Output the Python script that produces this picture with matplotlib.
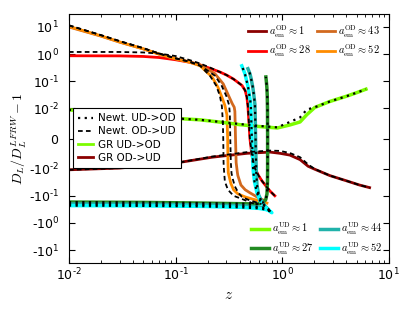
import numpy as np
import matplotlib
matplotlib.use("Agg")
import matplotlib.pyplot as plt
from matplotlib.lines import Line2D
from matplotlib.ticker import FixedLocator, FuncFormatter, NullLocator

plt.rcParams['mathtext.fontset'] = 'cm'

# colours / labels of the two families of curves
od_vals = [1, 28, 43, 52]
od_colors = ['#8b0000', '#ff0000', '#d2691e', '#ff8c00']
ud_vals = [1, 27, 44, 52]
ud_colors = ['#7cfc00', '#228b22', '#20b2aa', '#00ffff']

# ---- overdense observer -> underdense (GR) and Newtonian counterparts ----
z_od1 = [0.01, 0.03, 0.06, 0.11, 0.22, 0.47, 0.77, 0.95, 1.18, 1.47, 1.75, 2.02, 2.8, 4.0, 5.3, 6.6]
d_od1 = [-0.011, -0.0098, -0.0088, -0.0079, -0.0062, -0.0049, -0.0045, -0.0049, -0.0055, -0.007,
         -0.0092, -0.0105, -0.018, -0.028, -0.04, -0.05]
zn_od1 = z_od1
dn_od1 = [-0.011, -0.0098, -0.0088, -0.0079, -0.006, -0.0045, -0.004, -0.0041, -0.0048, -0.0062,
          -0.0086, -0.0103, -0.018, -0.028, -0.04, -0.05]

z_od28 = [0.01, 0.03, 0.05, 0.07, 0.1, 0.136, 0.17, 0.21, 0.26, 0.3, 0.35, 0.42, 0.45, 0.466, 0.477,
          0.49, 0.498, 0.51, 0.519, 0.555, 0.6, 0.645, 0.766, 0.853]
d_od28 = [0.87, 0.86, 0.82, 0.75, 0.62, 0.5, 0.4, 0.3, 0.22, 0.17, 0.12, 0.07, 0.045, 0.026, 0.012,
          0.004, 0.0, -0.003, -0.0055, -0.0099, -0.018, -0.028, -0.066, -0.1]
zn_od28 = z_od28
dn_od28 = [1.2, 1.2, 1.15, 1.05, 0.85, 0.6, 0.45, 0.32, 0.22, 0.17, 0.12, 0.07, 0.045, 0.026, 0.012,
           0.004, 0.0, -0.003, -0.0055, -0.0099, -0.018, -0.028, -0.066, -0.1]

z_od43 = [0.01, 0.02, 0.03, 0.05, 0.07, 0.1, 0.136, 0.17, 0.234, 0.28, 0.31, 0.34, 0.355, 0.36,
          0.365, 0.37, 0.38, 0.384, 0.41, 0.45, 0.5, 0.58, 0.69]
d_od43 = [10.0, 4.6, 2.75, 1.55, 1.0, 0.68, 0.52, 0.4, 0.19, 0.08, 0.033, 0.015, 0.011, 0.009,
          0.0, -0.008, -0.014, -0.018, -0.04, -0.06, -0.078, -0.11, -0.155]
zn_od43 = [0.01, 0.02, 0.03, 0.05, 0.07, 0.1, 0.136, 0.17, 0.234, 0.27, 0.3, 0.318, 0.323, 0.326,
           0.33, 0.335, 0.345, 0.36, 0.39, 0.42, 0.48, 0.56, 0.64]
dn_od43 = [11.5, 5.0, 3.0, 1.65, 1.05, 0.7, 0.52, 0.38, 0.16, 0.07, 0.028, 0.013, 0.008, 0.0,
           -0.008, -0.015, -0.025, -0.045, -0.08, -0.11, -0.14, -0.17, -0.2]

z_od52 = [0.01, 0.02, 0.03, 0.05, 0.07, 0.1, 0.136, 0.17, 0.22, 0.25, 0.272, 0.29, 0.303, 0.308,
          0.31, 0.312, 0.33, 0.35, 0.384, 0.45, 0.52, 0.6, 0.72]
d_od52 = [10.5, 4.7, 2.8, 1.56, 1.0, 0.67, 0.5, 0.37, 0.144, 0.06, 0.026, 0.013, 0.0079, 0.0,
          -0.008, -0.014, -0.035, -0.06, -0.085, -0.11, -0.13, -0.15, -0.185]
zn_od52 = [0.01, 0.02, 0.03, 0.05, 0.07, 0.1, 0.136, 0.17, 0.21, 0.24, 0.26, 0.272, 0.278, 0.28,
           0.282, 0.284, 0.29, 0.31, 0.35, 0.418, 0.52, 0.6]
dn_od52 = [11.5, 5.0, 3.0, 1.65, 1.05, 0.7, 0.52, 0.37, 0.16, 0.07, 0.03, 0.012, 0.005, 0.0,
           -0.008, -0.01, -0.03, -0.06, -0.1, -0.13, -0.185, -0.2]

# ---- underdense observer -> overdense (GR); Newtonian dotted on top ----
z_ud1 = [0.01, 0.03, 0.06, 0.11, 0.17, 0.3, 0.4, 0.6, 0.9, 1.18, 1.47, 1.7, 2.02, 2.8, 4.0, 5.0, 6.1]
d_ud1 = [0.0095, 0.0085, 0.0075, 0.0066, 0.0062, 0.0052, 0.0046, 0.004, 0.0035, 0.0045, 0.0055,
         0.0079, 0.0108, 0.018, 0.028, 0.038, 0.051]
zn_ud1 = z_ud1
dn_ud1 = [0.0095, 0.0085, 0.0075, 0.0066, 0.0062, 0.0053, 0.0048, 0.0042, 0.0037, 0.0055, 0.007,
          0.0096, 0.011, 0.018, 0.028, 0.038, 0.051]

z_ud27 = [0.01, 0.05, 0.17, 0.4, 0.58, 0.65, 0.7, 0.72, 0.728, 0.73, 0.73, 0.728, 0.724, 0.718,
          0.71, 0.703]
d_ud27 = [-0.17, -0.175, -0.185, -0.195, -0.2, -0.185, -0.14, -0.085, -0.03, -0.01, 0.0, 0.01,
          0.03, 0.06, 0.1, 0.144]

z_ud44 = [0.01, 0.05, 0.17, 0.4, 0.6, 0.7, 0.75, 0.7, 0.64, 0.6, 0.58, 0.572, 0.565, 0.56, 0.555,
          0.54, 0.53, 0.51, 0.498, 0.477]
d_ud44 = [-0.2, -0.205, -0.215, -0.23, -0.255, -0.28, -0.33, -0.25, -0.16, -0.09, -0.04, -0.015,
          -0.004, 0.005, 0.014, 0.035, 0.06, 0.13, 0.19, 0.29]

z_ud52 = [0.01, 0.05, 0.17, 0.4, 0.6, 0.7, 0.76, 0.8, 0.74, 0.67, 0.62, 0.58, 0.55, 0.535, 0.525,
          0.515, 0.508, 0.49, 0.477, 0.447, 0.418]
d_ud52 = [-0.23, -0.235, -0.245, -0.265, -0.29, -0.32, -0.36, -0.42, -0.33, -0.22, -0.15, -0.078,
          -0.03, -0.012, -0.004, 0.004, 0.014, 0.035, 0.066, 0.19, 0.37]

fig = plt.figure(figsize=(4.15, 3.12), dpi=100)
ax = fig.add_axes([0.166, 0.157, 0.771, 0.798])

gr_lw = 2.0
nw_lw = 1.3
dash = (2.6, 1.8)
dot = (1.0, 2.0)

od_gr = [(z_od1, d_od1), (z_od28, d_od28), (z_od43, d_od43), (z_od52, d_od52)]
od_nw = [(zn_od1, dn_od1), (zn_od28, dn_od28), (zn_od43, dn_od43), (zn_od52, dn_od52)]
ud_gr = [(z_ud1, d_ud1), (z_ud27, d_ud27), (z_ud44, d_ud44), (z_ud52, d_ud52)]
ud_nw = [(zn_ud1, dn_ud1), (z_ud27, d_ud27), (z_ud44, d_ud44), (z_ud52, d_ud52)]

od_handles = []
for (z, d), c, v in zip(od_gr, od_colors, od_vals):
    h, = ax.plot(z, d, color=c, lw=gr_lw, zorder=2,
                 label=r'$a_{\rm em}^{\rm OD}\approx %d$' % v)
    od_handles.append(h)
ud_handles = []
for (z, d), c, v in zip(ud_gr, ud_colors, ud_vals):
    h, = ax.plot(z, d, color=c, lw=gr_lw + 0.5, zorder=2,
                 label=r'$a_{\rm em}^{\rm UD}\approx %d$' % v)
    ud_handles.append(h)
for z, d in od_nw:
    ax.plot(z, d, color='k', lw=nw_lw, dashes=dash, zorder=3)
for z, d in ud_nw:
    ax.plot(z, d, color='k', lw=nw_lw + 0.3, dashes=dot, zorder=3)

ax.set_xscale('log')
ax.set_yscale('symlog', linthresh=0.01, linscale=1)
ax.set_xlim(0.01, 10)
ax.set_ylim(-30, 30)

yt = [-10, -1, -0.1, -0.01, 0, 0.01, 0.1, 1, 10]
xt = [0.01, 0.1, 1, 10]


def fmt(v, pos):
    if v == 0:
        return r'$\mathdefault{0}$'
    e = int(round(np.log10(abs(v))))
    s = '\u2010' if v < 0 else ''
    es = ('\u2010%d' % -e) if e < 0 else '%d' % e
    return r'$\mathdefault{%s10^{%s}}$' % (s, es)


ax.xaxis.set_major_locator(FixedLocator(xt))
ax.xaxis.set_major_formatter(FuncFormatter(fmt))
ax.yaxis.set_major_locator(FixedLocator(yt))
ax.yaxis.set_major_formatter(FuncFormatter(fmt))
ax.yaxis.set_minor_locator(NullLocator())
ax.tick_params(which='both', direction='in', top=True, right=True, labelsize=9)
ax.tick_params(axis='y', pad=7)
ax.tick_params(axis='x', pad=3)
ax.tick_params(which='major', length=4)
ax.tick_params(which='minor', length=2)

ax.set_xlabel(r'$z$', fontsize=11, labelpad=2)
ax.set_ylabel(r'$D_L/D_L^{LFRW}-1$', fontsize=10)
ax.yaxis.set_label_coords(-0.125, 0.5)

leg_od = ax.legend(handles=od_handles, loc='upper right', ncol=2, frameon=False, fontsize=7.5,
                   handlelength=1.7, columnspacing=0.6, handletextpad=0.3, labelspacing=0.3)
ax.add_artist(leg_od)
leg_ud = ax.legend(handles=ud_handles, loc='lower right', ncol=2, frameon=False, fontsize=7.5,
                   handlelength=1.7, columnspacing=0.6, handletextpad=0.3, labelspacing=0.3,
                   borderaxespad=0.2)
ax.add_artist(leg_ud)

style_handles = [
    Line2D([], [], color='k', lw=nw_lw + 0.3, dashes=dot),
    Line2D([], [], color='k', lw=nw_lw, dashes=dash),
    Line2D([], [], color=ud_colors[0], lw=gr_lw),
    Line2D([], [], color=od_colors[0], lw=gr_lw),
]
style_labels = ['Newt. UD->OD', 'Newt. OD->UD', 'GR UD->OD', 'GR OD->UD']
leg_st = ax.legend(style_handles, style_labels, loc='upper left', bbox_to_anchor=(0.0125, 0.622),
                   borderaxespad=0, fontsize=7.5, handlelength=1.4, handletextpad=0.5,
                   labelspacing=0.3, fancybox=False, framealpha=1, edgecolor='k',
                   borderpad=0.5)
leg_st.get_frame().set_linewidth(0.8)

fig.savefig('out.png', dpi=100)
